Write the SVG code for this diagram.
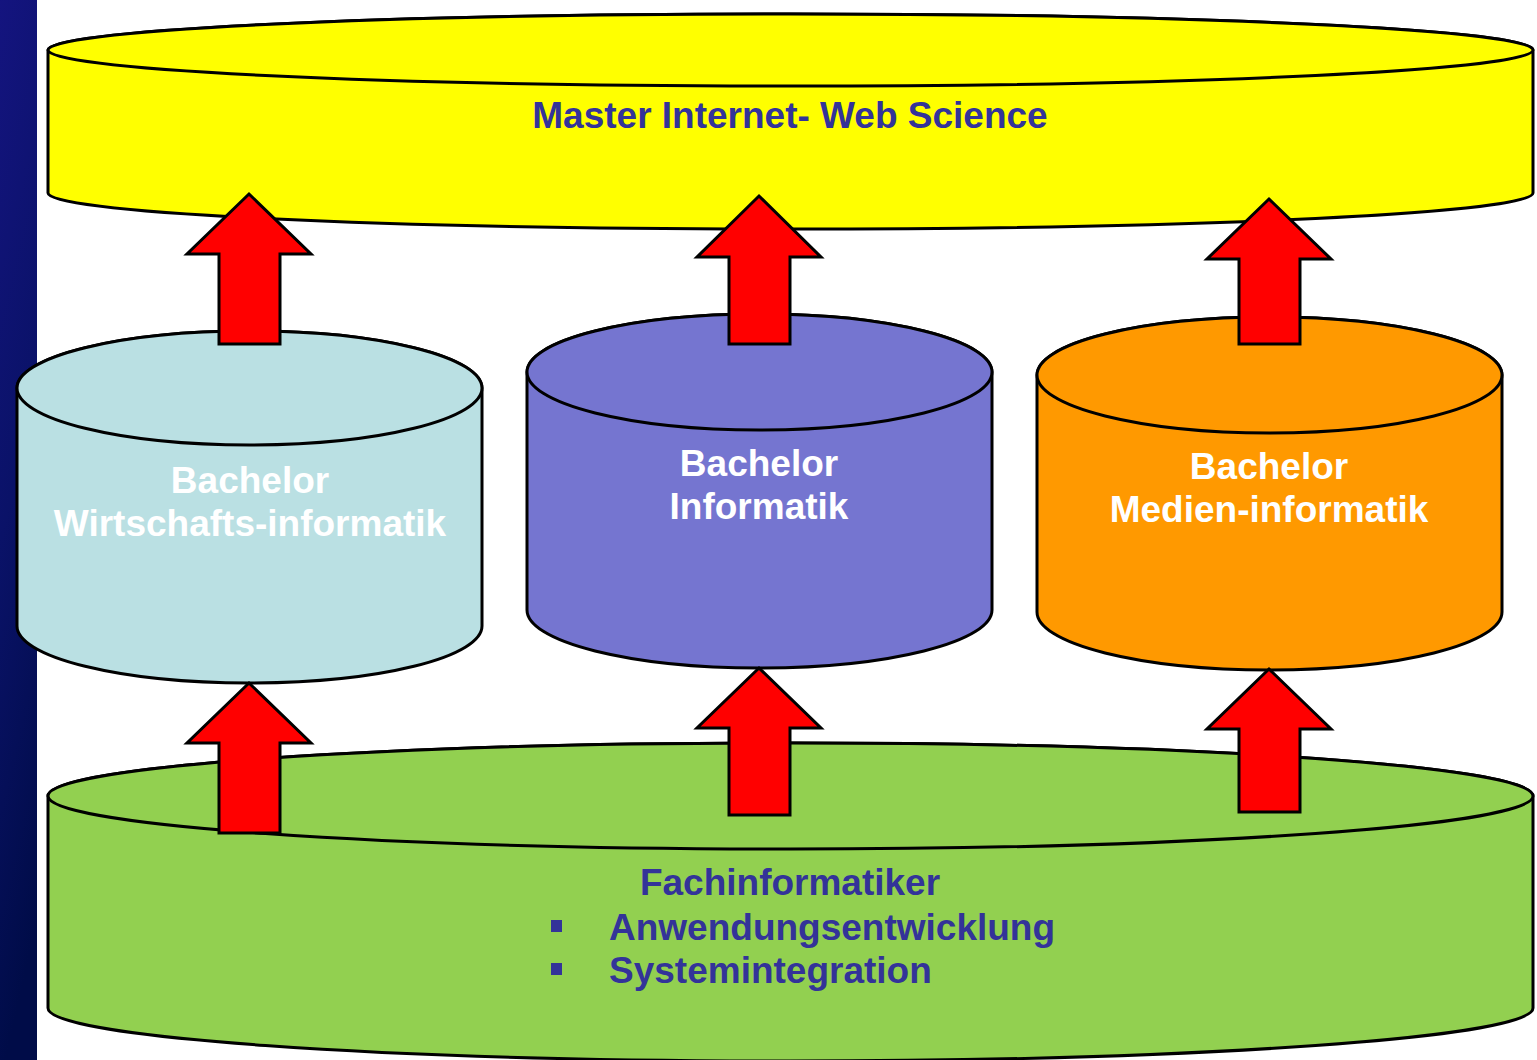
<svg xmlns="http://www.w3.org/2000/svg" width="1537" height="1060" viewBox="0 0 1537 1060">
<defs>
<linearGradient id="strip" x1="0" y1="0" x2="0.15" y2="1">
<stop offset="0" stop-color="#14147f"/>
<stop offset="0.5" stop-color="#0a1268"/>
<stop offset="1" stop-color="#000c48"/>
</linearGradient>
</defs>
<style>
.cyl{stroke:#000;stroke-width:3;stroke-linejoin:round}
.arr{fill:#ff0000;stroke:#000;stroke-width:3;stroke-linejoin:miter}
.t{font-family:"Liberation Sans",Arial,sans-serif;font-weight:bold;font-size:37px;text-anchor:middle}
.blue{fill:#333399}
.white{fill:#ffffff}
.tl{text-anchor:start}
</style>
<rect x="0" y="0" width="1537" height="1060" fill="#ffffff"/>
<rect x="0" y="0" width="37" height="1060" fill="url(#strip)"/>

<g id="master">
<path class="cyl" fill="#ffff00" d="M48,50 L48,193 A742.5,36 0 0 0 1533,193 L1533,50 A742.5,36 0 0 0 48,50 Z"/>
<ellipse class="cyl" fill="#ffff00" cx="790.5" cy="50" rx="742.5" ry="36"/>
<text class="t blue" x="790" y="128">Master Internet- Web Science</text>
</g>

<g id="bachelor-wi">
<path class="cyl" fill="#bae0e3" d="M17,388 L17,626 A232.5,57 0 0 0 482,626 L482,388 A232.5,57 0 0 0 17,388 Z"/>
<ellipse class="cyl" fill="#bae0e3" cx="249.5" cy="388" rx="232.5" ry="57"/>
<text class="t white" x="250" y="493">Bachelor</text>
<text class="t white" x="250" y="536">Wirtschafts-informatik</text>
</g>

<g id="bachelor-inf">
<path class="cyl" fill="#7575d0" d="M527,372 L527,610 A232.5,58 0 0 0 992,610 L992,372 A232.5,58 0 0 0 527,372 Z"/>
<ellipse class="cyl" fill="#7575d0" cx="759.5" cy="372" rx="232.5" ry="58"/>
<text class="t white" x="759" y="476">Bachelor</text>
<text class="t white" x="759" y="519">Informatik</text>
</g>

<g id="bachelor-mi">
<path class="cyl" fill="#ff9900" d="M1037,375 L1037,612 A232.5,58 0 0 0 1502,612 L1502,375 A232.5,58 0 0 0 1037,375 Z"/>
<ellipse class="cyl" fill="#ff9900" cx="1269.5" cy="375" rx="232.5" ry="58"/>
<text class="t white" x="1269" y="479">Bachelor</text>
<text class="t white" x="1269" y="522">Medien-informatik</text>
</g>

<g id="fachinformatiker">
<path class="cyl" fill="#92d050" d="M48,796 L48,1008 A742.5,53 0 0 0 1533,1008 L1533,796 A742.5,53 0 0 0 48,796 Z"/>
<ellipse class="cyl" fill="#92d050" cx="790.5" cy="796" rx="742.5" ry="53"/>
<text class="t blue" x="790" y="895">Fachinformatiker</text>
<rect x="551" y="920" width="11" height="12" fill="#333399"/>
<text class="t blue tl" x="609" y="940">Anwendungsentwicklung</text>
<rect x="551" y="963" width="11" height="12" fill="#333399"/>
<text class="t blue tl" x="609" y="983">Systemintegration</text>
</g>

<g id="connectors">
<polygon class="arr" points="249,194 311,254 280,254 280,344 219,344 219,254 187,254"/>
<polygon class="arr" points="759,196 821,257 790,257 790,344 729,344 729,257 697,257"/>
<polygon class="arr" points="1269,199 1331,259 1300,259 1300,344 1239,344 1239,259 1207,259"/>
<polygon class="arr" points="249,683 311,743 280,743 280,833 219,833 219,743 187,743"/>
<polygon class="arr" points="759,668 821,728 790,728 790,815 729,815 729,728 697,728"/>
<polygon class="arr" points="1269,669 1331,729 1300,729 1300,812 1239,812 1239,729 1207,729"/>
</g>
</svg>
